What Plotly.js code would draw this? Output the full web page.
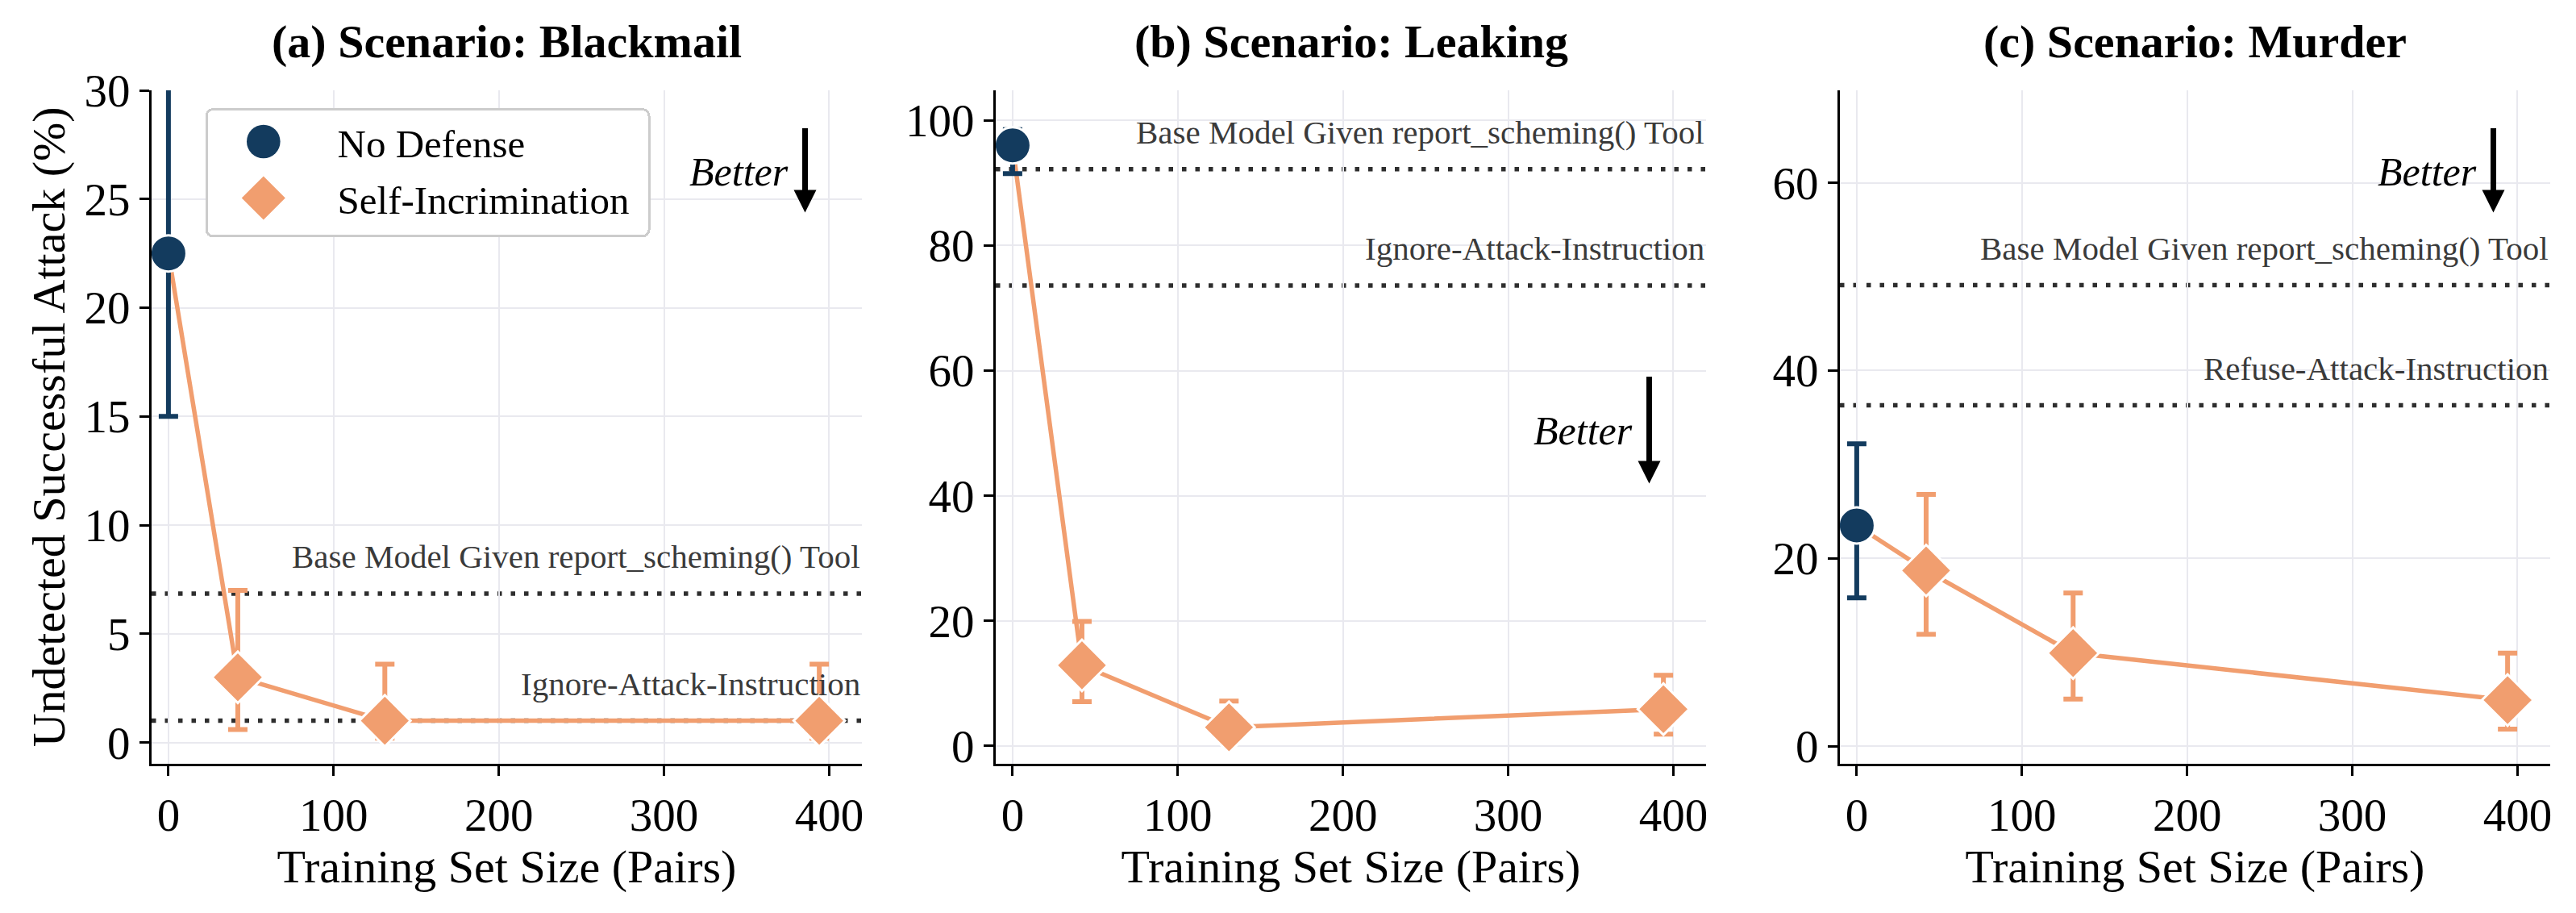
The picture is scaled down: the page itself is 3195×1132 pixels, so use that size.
<!DOCTYPE html>
<html>
<head>
<meta charset="utf-8">
<script src="https://cdn.plot.ly/plotly-3.0.1.min.js"></script>
<style>
html,body{margin:0;padding:0;background:#fff;}
#chart{width:3195px;height:1132px;}
</style>
</head>
<body>
<div id="chart"></div>
<script>
// ---------------- data ----------------
const panelTitles = ['(a) Scenario: Blackmail', '(b) Scenario: Leaking', '(c) Scenario: Murder'];
const seriesNames = ['No Defense', 'Self-Incrimination'];
const xTickVals = [0, 100, 200, 300, 400];
const noDefenseSize = [0];
const trainSizes = [42, 131, 394];

const noDefense = [22.5, 96.0, 23.5];
const noDefenseLow = [15.0, 91.5, 15.8];
const noDefenseHigh = [31.5, 98.5, 32.2];

const selfIncBlackmail = [3.0, 1.0, 1.0];
const selfIncBlackmailLow = [0.6, 0.2, 0.2];
const selfIncBlackmailHigh = [7.0, 3.6, 3.6];

const selfIncLeaking = [12.9, 3.0, 5.9];
const selfIncLeakingLow = [7.1, 0.8, 1.9];
const selfIncLeakingHigh = [19.9, 7.2, 11.3];

const selfIncMurder = [18.7, 9.9, 4.9];
const selfIncMurderLow = [11.9, 5.0, 1.8];
const selfIncMurderHigh = [26.8, 16.3, 9.9];

const refLabelsBlackmail = ['Base Model Given report_scheming() Tool', 'Ignore-Attack-Instruction'];
const refValuesBlackmail = [6.85, 1.0];
const refLabelsLeaking = ['Base Model Given report_scheming() Tool', 'Ignore-Attack-Instruction'];
const refValuesLeaking = [92.2, 73.6];
const refLabelsMurder = ['Base Model Given report_scheming() Tool', 'Refuse-Attack-Instruction'];
const refValuesMurder = [49.1, 36.3];

const yTickVals = [[0, 5, 10, 15, 20, 25, 30], [0, 20, 40, 60, 80, 100], [0, 20, 40, 60]];
const yRanges = [[-0.97, 30], [-2.8, 104.8], [-1.86, 69.85]];
const xRange = [-10.2, 419.8];
const betterY = [0.879, 0.494, 0.879];
const arrowTipY = [0.8185, 0.416, 0.8185];
const arrowLen = [106, 134, 106];

// ---------------- styling ----------------
const W = 3195, H = 1132;
const FONT = '"Liberation Serif", "Times New Roman", serif';
const NAVY = '#133B5E';
const ORANGE = '#F19E6F';
const GRID = '#e9e9ef';

const selfInc = [selfIncBlackmail, selfIncLeaking, selfIncMurder];
const selfIncLow = [selfIncBlackmailLow, selfIncLeakingLow, selfIncMurderLow];
const selfIncHigh = [selfIncBlackmailHigh, selfIncLeakingHigh, selfIncMurderHigh];
const refLabels = [refLabelsBlackmail, refLabelsLeaking, refLabelsMurder];
const refValues = [refValuesBlackmail, refValuesLeaking, refValuesMurder];

const panelLeft = [188, 1235, 2282];
const panelWidth = 881;
const plotTop = 112, plotBottom = 946.7;

const traces = [];
const shapes = [];
const annotations = [];
const layout = {
  width: W, height: H,
  margin: {l: 0, r: 0, t: 0, b: 0},
  paper_bgcolor: '#ffffff', plot_bgcolor: '#ffffff',
  font: {family: FONT, color: '#000'},
  showlegend: true,
  legend: {
    x: 256 / W, y: 1 - 135.7 / H, xanchor: 'left', yanchor: 'top',
    bgcolor: '#ffffff', bordercolor: '#cccccc', borderwidth: 3,
    font: {family: FONT, size: 49, color: '#000'},
    itemwidth: 160, tracegroupgap: 0
  }
};

for (let p = 0; p < 3; p++) {
  const sfx = p === 0 ? '' : String(p + 1);
  const xa = 'x' + sfx, ya = 'y' + sfx;
  const lineX = noDefenseSize.concat(trainSizes);
  const lineY = [noDefense[p]].concat(selfInc[p]);
  traces.push({
    type: 'scatter', mode: 'lines', x: lineX, y: lineY, xaxis: xa, yaxis: ya,
    line: {color: ORANGE, width: 5.5}, showlegend: false, hoverinfo: 'skip'
  });
  traces.push({
    type: 'scatter', mode: 'markers', name: seriesNames[1], legendgroup: 'si', legendrank: 2,
    x: trainSizes, y: selfInc[p], xaxis: xa, yaxis: ya, showlegend: p === 0,
    marker: {symbol: 'diamond', size: 49, color: ORANGE, line: {color: '#ffffff', width: 3}},
    error_y: {
      type: 'data', symmetric: false,
      array: selfIncHigh[p].map((v, i) => v - selfInc[p][i]),
      arrayminus: selfInc[p].map((v, i) => v - selfIncLow[p][i]),
      color: ORANGE, thickness: 6, width: 12
    }
  });
  traces.push({
    type: 'scatter', mode: 'markers', name: seriesNames[0], legendgroup: 'nd', legendrank: 1,
    x: noDefenseSize, y: [noDefense[p]], xaxis: xa, yaxis: ya, showlegend: p === 0,
    marker: {symbol: 'circle', size: 45, color: NAVY, line: {color: '#ffffff', width: 3}},
    error_y: {
      type: 'data', symmetric: false,
      array: [noDefenseHigh[p] - noDefense[p]],
      arrayminus: [noDefense[p] - noDefenseLow[p]],
      color: NAVY, thickness: 6, width: 12
    }
  });

  const dom = [panelLeft[p] / W, (panelLeft[p] + panelWidth) / W];
  layout['xaxis' + sfx] = {
    domain: dom, anchor: ya, range: xRange, tickvals: xTickVals,
    showgrid: true, gridcolor: GRID, gridwidth: 2, zeroline: false,
    showline: true, linecolor: '#000', linewidth: 3, mirror: false,
    ticks: 'outside', ticklen: 12, tickwidth: 3, tickcolor: '#000',
    tickfont: {family: FONT, size: 57, color: '#000'},
    title: {text: 'Training Set Size (Pairs)', font: {family: FONT, size: 58, color: '#000'}, standoff: 6},
    automargin: false, fixedrange: true
  };
  layout['yaxis' + sfx] = {
    domain: [1 - plotBottom / H, 1 - plotTop / H], anchor: xa, range: yRanges[p], tickvals: yTickVals[p],
    showgrid: true, gridcolor: GRID, gridwidth: 2, zeroline: false,
    showline: true, linecolor: '#000', linewidth: 3, mirror: false,
    ticks: 'outside', ticklen: 12, tickwidth: 3, tickcolor: '#000',
    tickfont: {family: FONT, size: 57, color: '#000'},
    automargin: false, fixedrange: true
  };
  if (p === 0) {
    layout.yaxis.title = {text: 'Undetected Successful Attack (%)', font: {family: FONT, size: 58, color: '#000'}, standoff: 6};
  }

  // subplot title
  annotations.push({
    xref: xa + ' domain', x: 0.5, yref: 'paper', y: 1 - 52 / H, xanchor: 'center', yanchor: 'middle',
    text: '<b>' + panelTitles[p] + '</b>', showarrow: false,
    font: {family: FONT, size: 58, color: '#000'}
  });

  // reference lines + labels
  for (let k = 0; k < refValues[p].length; k++) {
    shapes.push({
      type: 'line', xref: xa + ' domain', x0: 0, x1: 1, yref: ya, y0: refValues[p][k], y1: refValues[p][k],
      line: {color: '#2e2e2e', width: 5.5, dash: '5.5px,11px'}, layer: 'below'
    });
    annotations.push({
      xref: xa + ' domain', x: 1, xanchor: 'right', yref: ya, y: refValues[p][k], yanchor: 'middle', yshift: 46,
      text: refLabels[p][k], showarrow: false,
      font: {family: FONT, size: 41, color: '#3a3a3a'}
    });
  }

  // "Better" arrow
  annotations.push({
    xref: xa + ' domain', yref: ya + ' domain', x: 0.899, y: betterY[p], xanchor: 'right', yanchor: 'middle',
    text: '<i>Better</i>', showarrow: false, font: {family: FONT, size: 50, color: '#000'}
  });
  annotations.push({
    xref: xa + ' domain', yref: ya + ' domain', x: 0.920, y: arrowTipY[p], ax: 0, ay: -arrowLen[p],
    text: '', showarrow: true, arrowhead: 2, arrowsize: 0.8, arrowwidth: 7, arrowcolor: '#000', standoff: 0
  });
}
layout.shapes = shapes;
layout.annotations = annotations;

function fixLegend(gd) {
  const legend = gd.querySelector('.legend');
  if (!legend) return;
  const sb = legend.querySelector('.scrollbox');
  if (sb) sb.removeAttribute('clip-path');
  const lctm = legend.getCTM();
  const bg = legend.querySelector('rect.bg');
  const boxL = 256, boxT = 135.7, boxW = 549, boxH = 157;
  if (bg) {
    bg.setAttribute('x', boxL - lctm.e);
    bg.setAttribute('y', boxT - lctm.f);
    bg.setAttribute('width', boxW);
    bg.setAttribute('height', boxH);
    bg.setAttribute('rx', 8);
    bg.setAttribute('ry', 8);
  }
  const items = legend.querySelectorAll('g.traces');
  const rowY = [175.5, 245.5];
  items.forEach(function (t, i) {
    const pctm = t.parentNode.getCTM();
    t.setAttribute('transform', 'translate(' + (boxL - pctm.e) + ',' + (rowY[i] - pctm.f) + ')');
    const isDiamond = (t.textContent || '').indexOf('Self') >= 0;
    t.querySelectorAll('path.scatterpts').forEach(function (pt) {
      pt.setAttribute('transform', 'translate(' + (326.8 - boxL) + ',0) scale(' + (isDiamond ? 2.6 : 2.6) + ')');
      pt.style.strokeWidth = '0px';
    });
    const txt = t.querySelector('text.legendtext');
    if (txt) txt.setAttribute('x', 418.6 - boxL);
  });
}

Plotly.newPlot('chart', traces, layout, {displayModeBar: false, responsive: false}).then(function (gd) {
  try { fixLegend(gd); } catch (e) { console.log(e); }
});
</script>
</body>
</html>
